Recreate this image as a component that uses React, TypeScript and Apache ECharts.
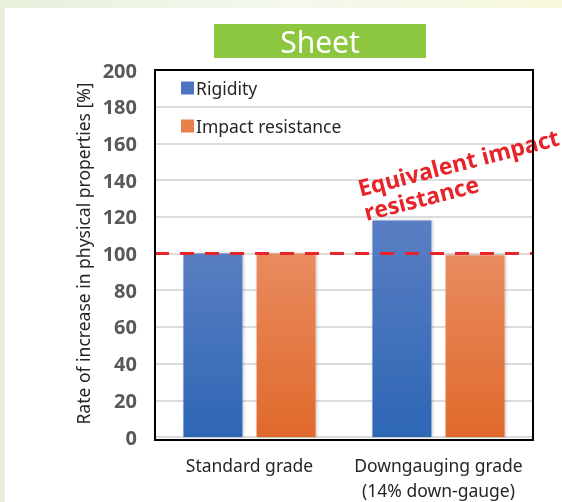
import React, { useEffect, useRef } from "react";
import * as echarts from "echarts";

const categories = ["Standard grade", "Downgauging grade\n(14% down-gauge)"];
const rigidity = [100, 118];
const impactResistance = [100, 99];
const seriesNames = ["Rigidity", "Impact resistance"];
const yMin = 0;
const yMax = 200;
const yInterval = 20;
const referenceLevel = 100;
const chartTitle = "Sheet";
const annotation = "Equivalent impact\nresistance";
const yAxisTitle = "Rate of increase in physical properties [%]";

const FONT = "'Noto Sans', 'Open Sans', sans-serif";

const GRID = { left: 155, top: 70, right: 29, bottom: 62 };
const W = 562;
const H = 502;

export default function App() {
  const ref = useRef<HTMLDivElement>(null);
  useEffect(() => {
    if (!ref.current) return;
    const chart = echarts.init(ref.current, null, { renderer: "svg" });
    const blueGrad = new echarts.graphic.LinearGradient(0, 0, 0, 1, [
      { offset: 0, color: "#5a7ec3" },
      { offset: 1, color: "#2d66b5" },
    ]);
    const orangeGrad = new echarts.graphic.LinearGradient(0, 0, 0, 1, [
      { offset: 0, color: "#e98b5f" },
      { offset: 1, color: "#e0692c" },
    ]);
    chart.setOption({
      animation: false,
      textStyle: { fontFamily: FONT },
      graphic: [
        {
          type: "rect",
          z: -10,
          silent: true,
          shape: { x: 0, y: 0, width: W, height: H },
          style: {
            fill: new echarts.graphic.LinearGradient(0, 0, 1, 0, [
              { offset: 0, color: "#e6f0da" },
              { offset: 0.5, color: "#f4f8ef" },
              { offset: 1, color: "#f8f8dc" },
            ]),
          },
        },
        {
          type: "rect",
          z: -9,
          silent: true,
          shape: { x: 5, y: 8, width: W - 5, height: H - 8 },
          style: { fill: "#ffffff" },
        },
        {
          type: "rect",
          z: 20,
          silent: true,
          shape: {
            x: GRID.left,
            y: GRID.top,
            width: W - GRID.left - GRID.right,
            height: H - GRID.top - GRID.bottom,
          },
          style: { fill: "none", stroke: "#000000", lineWidth: 2 },
        },
        {
          type: "rect",
          z: 5,
          shape: { x: 214, y: 24, width: 212, height: 34 },
          style: { fill: "#8dc63f" },
        },
        {
          type: "text",
          z: 6,
          x: 320,
          y: 41,
          style: {
            text: chartTitle,
            fill: "#ffffff",
            fontSize: 30,
            fontFamily: FONT,
            textAlign: "center",
            textVerticalAlign: "middle",
          },
        },
        {
          type: "text",
          z: 10,
          x: 355,
          y: 176,
          rotation: (14.5 * Math.PI) / 180,
          style: {
            text: annotation,
            fill: "#e8242b",
            fontSize: 23,
            fontWeight: "bold",
            fontFamily: FONT,
            lineHeight: 25,
            textAlign: "left",
            textVerticalAlign: "top",
          },
        },
      ],
      legend: {
        orient: "vertical",
        left: 181,
        top: 79,
        padding: 0,
        itemWidth: 13,
        itemHeight: 13,
        itemGap: 20,
        icon: "rect",
        textStyle: { fontSize: 17.5, color: "#262626", fontFamily: FONT, padding: [0, 0, 0, -3] },
        data: [
          { name: seriesNames[0], itemStyle: { color: "#4a74c0" } },
          { name: seriesNames[1], itemStyle: { color: "#e8804a" } },
        ],
      },
      grid: {
        left: GRID.left,
        right: GRID.right,
        top: GRID.top,
        bottom: GRID.bottom,
      },
      xAxis: {
        type: "category",
        data: categories,
        axisTick: { show: false },
        axisLine: { show: false },
        axisLabel: {
          interval: 0,
          fontSize: 17.5,
          color: "#262626",
          margin: 15,
          lineHeight: 25,
          fontFamily: FONT,
        },
      },
      yAxis: {
        type: "value",
        min: yMin,
        max: yMax,
        interval: yInterval,
        name: yAxisTitle,
        nameLocation: "middle",
        nameGap: 63,
        nameTextStyle: { fontSize: 17.5, color: "#262626", fontFamily: FONT },
        axisLine: { show: false },
        axisTick: { show: false },
        axisLabel: {
          fontSize: 20,
          fontWeight: "bold",
          color: "#595959",
          margin: 18,
          fontFamily: FONT,
        },
        splitLine: { lineStyle: { color: "#dcdcdc", width: 2 } },
      },
      series: [
        {
          name: seriesNames[0],
          type: "bar",
          data: rigidity,
          barWidth: 59,
          barGap: "24%",
          itemStyle: {
            color: blueGrad,
            shadowBlur: 3,
            shadowColor: "rgba(0,0,0,0.25)",
            shadowOffsetX: 1,
            shadowOffsetY: 0,
          },
        },
        {
          name: seriesNames[1],
          type: "bar",
          data: impactResistance,
          barWidth: 59,
          barGap: "24%",
          itemStyle: {
            color: orangeGrad,
            shadowBlur: 3,
            shadowColor: "rgba(0,0,0,0.25)",
            shadowOffsetX: 1,
            shadowOffsetY: 0,
          },
          markLine: {
            silent: true,
            symbol: "none",
            z: 8,
            label: { show: false },
            lineStyle: { color: "#e8242b", width: 3, type: [14, 11] },
            data: [{ yAxis: referenceLevel }],
          },
        },
      ],
    });
    return () => chart.dispose();
  }, []);
  return (
    <div
      ref={ref}
      style={{ position: "fixed", left: 0, top: 0, width: W, height: H }}
    />
  );
}
